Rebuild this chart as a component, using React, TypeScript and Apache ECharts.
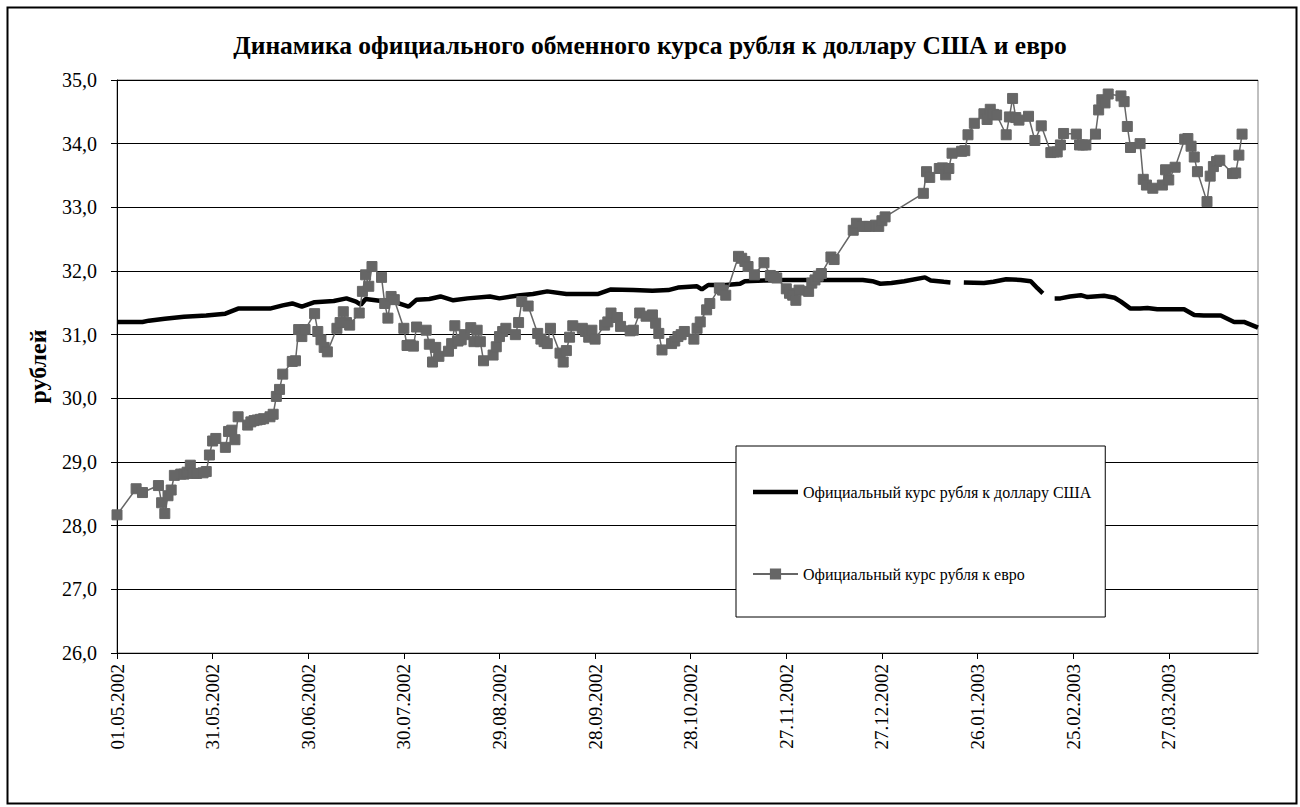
import React, { useEffect, useRef } from "react";
import * as echarts from "echarts";

// Day offsets are counted from 01.05.2002
const START_DATE = Date.UTC(2002, 4, 1);
const X_MAX_DAY = 358;
const X_TICK_DAYS = [0, 30, 60, 90, 120, 150, 180, 210, 240, 270, 300, 330];
const Y_MIN = 26;
const Y_MAX = 35;

const TITLE = "Динамика официального обменного курса рубля к доллару США и евро";
const Y_NAME = "рублей";
const USD_NAME = "Официальный курс рубля к доллару США";
const EUR_NAME = "Официальный курс рубля к евро";

// USD rate (null = missing values, shown as a break in the line)
const usdDays = [
  0, 8, 10, 15, 21, 28, 34, 36, 38, 48, 52, 55, 58, 62, 68, 72, 75, 76.5, 78, 83, 88, 91.5, 94, 98,
  101.5, 105.5, 110, 117, 120, 126.5, 130.5, 135, 141, 147.5, 151, 155, 162, 168, 173, 176, 182,
  183.5, 185.5, 191, 195.5, 197, 203, 209, 218, 224, 234, 237, 239.5, 243, 247, 253.5, 255.3,
  259.4, 261.5, 263, 265.7, 272, 275, 279, 283.5, 286.7, 288.8, 290.5, 292, 294.2, 296, 299,
  302.4, 304.5, 309.7, 313, 315, 318, 321, 323.3, 326.4, 334.8, 338, 341, 346.3, 350.5, 353.6, 358,
];
const usdValues = [
  31.2, 31.2, 31.22, 31.25, 31.28, 31.3, 31.33, 31.37, 31.41, 31.41, 31.46, 31.49, 31.44, 31.51,
  31.53, 31.57, 31.52, 31.47, 31.56, 31.53, 31.5, 31.44, 31.55, 31.56, 31.6, 31.54, 31.57, 31.6,
  31.57, 31.62, 31.64, 31.68, 31.64, 31.64, 31.64, 31.71, 31.7, 31.69, 31.7, 31.74, 31.76, 31.71,
  31.78, 31.78, 31.8, 31.84, 31.85, 31.86, 31.86, 31.86, 31.86, 31.84, 31.8, 31.81, 31.84, 31.9,
  31.85, 31.83, 31.82, null, 31.82, 31.81, 31.83, 31.87, 31.86, 31.84, 31.73, 31.65, null, 31.57,
  31.57, 31.6, 31.62, 31.59, 31.61, 31.58, 31.52, 31.41, 31.41, 31.42, 31.4, 31.4, 31.31, 31.3,
  31.3, 31.2, 31.2, 31.11,
];

// EUR rate
const eurDays = [
  0, 6, 8, 13, 14, 15, 16, 17, 18, 20, 21, 22, 23, 24, 25, 27, 28, 29, 30, 31, 34, 35, 36, 37, 38,
  41, 42, 43, 44, 45, 46, 48, 49, 50, 51, 52, 55, 56, 57, 58, 59, 62, 63, 64, 65, 66, 69, 70, 71,
  72, 73, 76, 77, 78, 79, 80, 83, 84, 85, 86, 87, 90, 91, 92, 93, 94, 97, 98, 99, 100, 101, 104,
  105, 106, 107, 108, 109, 111, 112, 113, 114, 115, 118, 119, 120, 121, 122, 125, 126, 127, 129,
  132, 133, 134, 135, 136, 139, 140, 141, 142, 143, 146, 147, 148, 149, 150, 153, 154, 155, 157,
  158, 161, 162, 164, 166, 168, 169, 170, 171, 174, 175, 176, 177, 178, 181, 182, 183, 185, 186,
  189, 190, 191, 195, 196, 197, 198, 200, 203, 205, 206, 207, 210, 211, 212, 213, 214, 217, 218,
  219, 220, 221, 224, 225, 231, 232, 234, 235, 236, 238, 239, 240, 241, 253, 254, 255, 258, 259,
  260, 261, 262, 265, 266, 267, 269, 272, 273, 274, 275, 276, 279, 280, 281, 282, 283, 286, 288,
  290, 293, 294, 295, 296, 297, 301, 302, 303, 304, 307, 308, 309, 310, 311, 315, 316, 317, 318,
  321, 322, 323, 325, 328, 329, 330, 332, 335, 336, 337, 338, 339, 342, 343, 344, 345, 346, 350,
  351, 352, 353,
];
const eurValues = [
  28.17, 28.58, 28.52, 28.63, 28.36, 28.19, 28.47, 28.56, 28.79, 28.81, 28.81, 28.84, 28.95, 28.82,
  28.82, 28.83, 28.85, 29.11, 29.33, 29.37, 29.23, 29.48, 29.5, 29.35, 29.71, 29.58, 29.63, 29.65,
  29.66, 29.67, 29.68, 29.71, 29.75, 30.03, 30.14, 30.38, 30.58, 30.59, 31.08, 30.97, 31.08, 31.33,
  31.05, 30.92, 30.8, 30.73, 31.1, 31.19, 31.36, 31.19, 31.15, 31.34, 31.68, 31.94, 31.76, 32.07,
  31.9, 31.49, 31.26, 31.6, 31.55, 31.1, 30.83, 30.84, 30.82, 31.12, 31.07, 30.85, 30.57, 30.8,
  30.66, 30.74, 30.86, 31.14, 30.9, 30.92, 31.0, 31.11, 30.89, 31.07, 30.89, 30.59, 30.68, 30.81,
  30.97, 31.05, 31.1, 31.0, 31.19, 31.52, 31.45, 31.02, 30.93, 30.89, 30.86, 31.1, 30.71, 30.57,
  30.75, 30.96, 31.14, 31.1, 31.05, 30.96, 31.07, 30.93, 31.15, 31.2, 31.34, 31.27, 31.13, 31.06,
  31.07, 31.34, 31.29, 31.31, 31.18, 31.02, 30.76, 30.86, 30.9, 30.97, 31.0, 31.05, 30.93, 31.1,
  31.2, 31.39, 31.49, 31.73, 31.7, 31.62, 32.23, 32.2, 32.15, 32.07, 31.94, 32.13, 31.93, 31.91,
  31.89, 31.72, 31.65, 31.62, 31.54, 31.7, 31.68, 31.81, 31.86, 31.92, 31.96, 32.22, 32.18, 32.64,
  32.75, 32.7, 32.7, 32.7, 32.72, 32.7, 32.79, 32.85, 33.22, 33.56, 33.47, 33.61, 33.62, 33.51,
  33.61, 33.85, 33.88, 33.89, 34.14, 34.32, 34.47, 34.38, 34.54, 34.46, 34.45, 34.14, 34.42, 34.71,
  34.41, 34.37, 34.43, 34.05, 34.28, 33.86, 33.87, 33.87, 33.98, 34.16, 34.15, 33.98, 33.98, 33.98,
  34.15, 34.53, 34.69, 34.64, 34.78, 34.75, 34.66, 34.27, 33.94, 34.0, 33.44, 33.35, 33.3, 33.35,
  33.59, 33.43, 33.63, 34.07, 34.08, 33.96, 33.79, 33.56, 33.09, 33.49, 33.64, 33.72, 33.74, 33.53,
  33.54, 33.82, 34.15,
];

const FONT = "'Liberation Serif', 'Times New Roman', serif";

function dayToLabel(day: number): string {
  const d = new Date(START_DATE + day * 86400000);
  const dd = String(d.getUTCDate()).padStart(2, "0");
  const mm = String(d.getUTCMonth() + 1).padStart(2, "0");
  return `${dd}.${mm}.${d.getUTCFullYear()}`;
}

export default function App() {
  const ref = useRef<HTMLDivElement>(null);

  useEffect(() => {
    if (!ref.current) return;
    const chart = echarts.init(ref.current, null, { renderer: "svg" });

    const usdData = usdDays.map((d, i) => [d, usdValues[i] === null ? "-" : usdValues[i]]);
    const eurData = eurDays.map((d, i) => [d, eurValues[i]]);

    chart.setOption({
      animation: false,
      backgroundColor: "#fff",
      textStyle: { fontFamily: FONT },
      title: {
        text: TITLE,
        left: "center",
        top: 27,
        textStyle: { fontFamily: FONT, fontSize: 25.5, fontWeight: "bold", color: "#000" },
      },
      grid: {
        left: 117,
        right: 42,
        top: 80,
        bottom: 154,
        show: true,
        borderColor: "#808080",
        borderWidth: 1,
        backgroundColor: "transparent",
      },
      legend: {
        orient: "vertical",
        left: 736,
        top: 446,
        padding: [38, 14, 35, 16],
        itemGap: 66,
        itemWidth: 45,
        itemHeight: 14,
        symbolKeepAspect: true,
        backgroundColor: "#fff",
        borderColor: "#000",
        borderWidth: 1,
        borderRadius: 0,
        textStyle: { fontFamily: FONT, fontSize: 16, color: "#000" },
        data: [
          {
            name: USD_NAME,
            icon: "path://M0,0L45,0L45,4.5L0,4.5Z",
            itemStyle: { color: "#000", borderWidth: 0 },
          },
          { name: EUR_NAME },
        ],
      },
      xAxis: {
        type: "value",
        min: 0,
        max: X_MAX_DAY,
        interval: 30,
        axisLine: { show: true, lineStyle: { color: "#000", width: 1 } },
        axisTick: {
          show: true,
          inside: false,
          length: 6,
          customValues: X_TICK_DAYS,
          lineStyle: { color: "#000" },
        },
        axisLabel: {
          rotate: 90,
          margin: 11,
          customValues: X_TICK_DAYS,
          fontFamily: FONT,
          fontSize: 19,
          color: "#000",
          formatter: (v: number) => dayToLabel(v),
        },
        splitLine: { show: false },
      },
      yAxis: {
        type: "value",
        min: Y_MIN,
        max: Y_MAX,
        interval: 1,
        name: Y_NAME,
        nameLocation: "middle",
        nameRotate: 90,
        nameGap: 67,
        nameTextStyle: { fontFamily: FONT, fontSize: 24, fontWeight: "bold", color: "#000" },
        axisLine: { show: true, lineStyle: { color: "#000", width: 1 } },
        axisTick: { show: true, inside: false, length: 6, lineStyle: { color: "#000" } },
        axisLabel: {
          margin: 20,
          fontFamily: FONT,
          fontSize: 20,
          color: "#000",
          formatter: (v: number) => v.toFixed(1).replace(".", ","),
        },
        splitLine: { show: true, lineStyle: { color: "#000", width: 1 } },
      },
      series: [
        {
          name: USD_NAME,
          type: "line",
          data: usdData,
          showSymbol: false,
          symbol: "none",
          connectNulls: false,
          lineStyle: { color: "#000", width: 4.5 },
          itemStyle: { color: "#000" },
          z: 2,
        },
        {
          name: EUR_NAME,
          type: "line",
          data: eurData,
          symbol: "rect",
          symbolSize: 10,
          showSymbol: true,
          showAllSymbol: true,
          lineStyle: { color: "#666", width: 1.5 },
          itemStyle: { color: "#666", borderColor: "#666" },
          z: 3,
        },
      ],
      graphic: [
        {
          type: "rect",
          left: 5,
          top: 5,
          shape: { x: 0, y: 0, width: 1289, height: 796 },
          style: { fill: "none", stroke: "#000", lineWidth: 2 },
          silent: true,
          z: 100,
        },
      ],
    });

    return () => chart.dispose();
  }, []);

  return (
    <div
      ref={ref}
      style={{ position: "fixed", left: 0, top: 0, width: 1300, height: 807, background: "#fff" }}
    />
  );
}
